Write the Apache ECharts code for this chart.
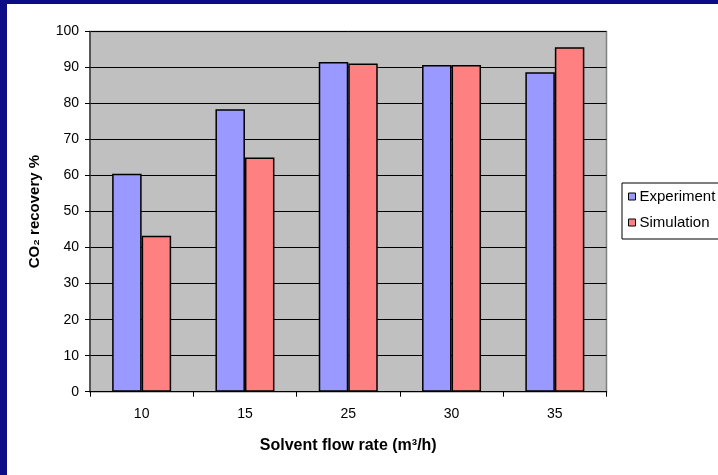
<!DOCTYPE html>
<html>
<head>
<meta charset="utf-8">
<script src="https://cdn.jsdelivr.net/npm/echarts@6/dist/echarts.min.js"></script>
<style>
html,body{margin:0;padding:0;background:#fff;}
#chart{width:718px;height:475px;}
</style>
</head>
<body>
<div id="chart"></div>
<script>
const categories = ['10', '15', '25', '30', '35'];
const experiment = [60.5, 78.4, 91.5, 90.7, 88.7];
const simulation = [43.3, 65.0, 91.1, 90.7, 95.6];
const seriesNames = ['Experiment', 'Simulation'];
const yTicks = { min: 0, max: 100, interval: 10 };

const chart = echarts.init(document.getElementById('chart'), null, { renderer: 'canvas' });
const font = 'Arial, "Liberation Sans", sans-serif';
chart.setOption({
  backgroundColor: '#ffffff',
  animation: false,
  graphic: [
    { type: 'rect', left: 0, top: 0, shape: { width: 7, height: 475 }, style: { fill: '#0c0c84' }, z: 100 },
    { type: 'rect', left: 0, top: 0, shape: { width: 718, height: 4 }, style: { fill: '#0c0c84' }, z: 100 }
  ],
  grid: {
    left: 90, right: 111.5, top: 31.5, bottom: 83.3,
    show: true, backgroundColor: '#c0c0c0', borderColor: '#808080', borderWidth: 1.5
  },
  legend: {
    orient: 'vertical', left: 622, top: 183,
    padding: [6, 30, 9, 6],
    itemGap: 11, itemWidth: 7, itemHeight: 7, icon: 'rect',
    borderColor: '#000', borderWidth: 1, backgroundColor: '#fff',
    itemStyle: { borderColor: '#000', borderWidth: 1 },
    textStyle: { fontFamily: font, fontSize: 15, color: '#000', padding: [0,0,0,-1] },
    data: seriesNames
  },
  xAxis: {
    type: 'category', data: categories,
    axisLine: { lineStyle: { color: '#000', width: 1 } },
    axisTick: { show: true, alignWithLabel: false, length: 5, lineStyle: { color: '#000' } },
    axisLabel: { fontFamily: font, fontSize: 14, color: '#000', margin: 15 },
    name: 'Solvent flow rate (m³/h)', nameLocation: 'middle', nameGap: 46,
    nameTextStyle: { fontFamily: font, fontSize: 16, fontWeight: 'bold', color: '#000' }
  },
  yAxis: {
    type: 'value', min: yTicks.min, max: yTicks.max, interval: yTicks.interval,
    axisLine: { show: true, lineStyle: { color: '#404040', width: 1.5 } },
    axisTick: { show: true, length: 5, lineStyle: { color: '#000' } },
    axisLabel: { fontFamily: font, fontSize: 14, color: '#000', margin: 11 },
    splitLine: { show: true, lineStyle: { color: '#000', width: 1 } },
    name: 'CO₂ recovery %', nameLocation: 'middle', nameGap: 48, nameRotate: 90,
    nameTextStyle: { fontFamily: font, fontSize: 15, fontWeight: 'bold', color: '#000' }
  },
  series: [
    { name: seriesNames[0], type: 'bar', data: experiment, barWidth: 29.5, barGap: '0%',
      itemStyle: { color: '#9999ff', borderColor: '#000', borderWidth: 1.5 } },
    { name: seriesNames[1], type: 'bar', data: simulation, barWidth: 29.5, barGap: '0%',
      itemStyle: { color: '#ff8080', borderColor: '#000', borderWidth: 1.5 } }
  ]
});
</script>
</body>
</html>
